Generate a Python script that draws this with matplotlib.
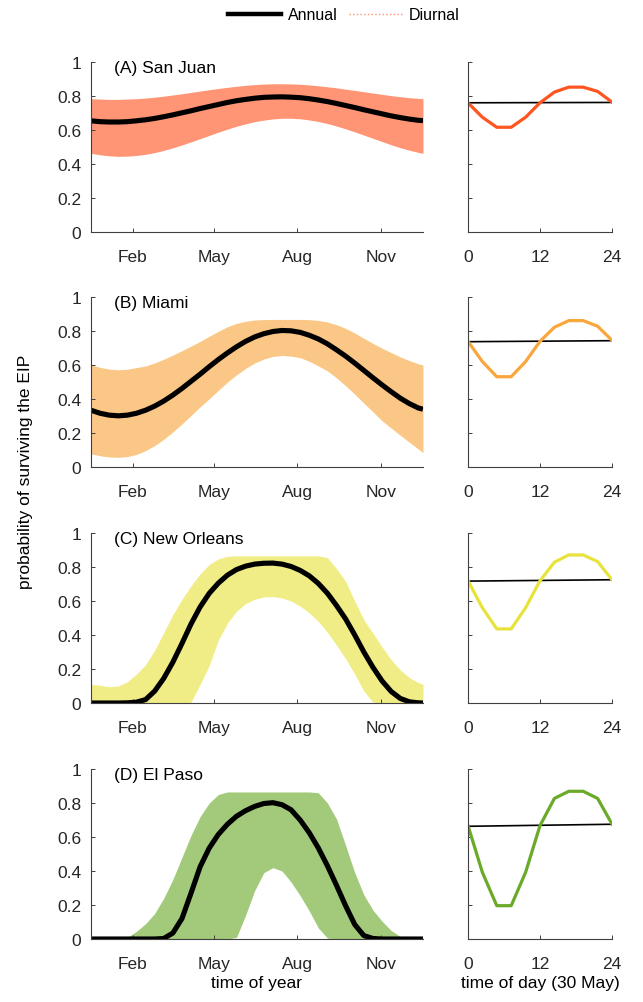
import matplotlib.pyplot as plt
from matplotlib.lines import Line2D

plt.rcParams['font.family'] = ['Liberation Sans', 'DejaVu Sans']

# giorno dell'anno (ogni 10 giorni)
days = [0, 10, 20, 30, 40, 50, 60, 70, 80, 90, 100, 110, 120, 130, 140, 150, 160, 170, 180,
        190, 200, 210, 220, 230, 240, 250, 260, 270, 280, 290, 300, 310, 320, 330, 340, 350,
        360, 365]

month_ticks = [46, 135, 227, 319]
month_labels = ['Feb', 'May', 'Aug', 'Nov']

# curve annuali (media)
sj_mean = [0.654, 0.649, 0.647, 0.647, 0.649, 0.654, 0.660, 0.668, 0.678, 0.689, 0.701, 0.713,
           0.726, 0.738, 0.750, 0.762, 0.772, 0.780, 0.787, 0.792, 0.794, 0.795, 0.793, 0.790,
           0.784, 0.776, 0.767, 0.756, 0.744, 0.732, 0.719, 0.707, 0.695, 0.683, 0.673, 0.664,
           0.657, 0.655]
mi_mean = [0.334, 0.316, 0.305, 0.301, 0.305, 0.316, 0.334, 0.358, 0.388, 0.423, 0.462, 0.504,
           0.546, 0.590, 0.632, 0.671, 0.707, 0.739, 0.765, 0.784, 0.797, 0.803, 0.801, 0.792,
           0.775, 0.753, 0.724, 0.689, 0.652, 0.611, 0.568, 0.525, 0.483, 0.443, 0.405, 0.373,
           0.347, 0.340]
no_mean = [0.0, 0.0, 0.0, 0.0, 0.001, 0.005, 0.02, 0.07, 0.145, 0.24, 0.35, 0.465,
           0.565, 0.645, 0.705, 0.752, 0.785, 0.805, 0.817, 0.822, 0.823, 0.817, 0.803, 0.780,
           0.748, 0.703, 0.645, 0.573, 0.494, 0.40, 0.30, 0.21, 0.13, 0.068, 0.027, 0.007,
           0.001, 0.0]
ep_mean = [0.0, 0.0, 0.0, 0.0, 0.0, 0.0, 0.0, 0.0, 0.003, 0.035, 0.12, 0.27,
           0.425, 0.535, 0.615, 0.675, 0.722, 0.755, 0.78, 0.797, 0.802, 0.79, 0.76, 0.70,
           0.625, 0.535, 0.43, 0.315, 0.195, 0.085, 0.02, 0.003, 0.0, 0.0, 0.0, 0.0,
           0.0, 0.0]

# inviluppo superiore / inferiore della variazione giornaliera
sj_up = [0.784, 0.782, 0.780, 0.780, 0.782, 0.784, 0.788, 0.793, 0.799, 0.806, 0.813, 0.821,
         0.829, 0.837, 0.844, 0.851, 0.857, 0.863, 0.867, 0.870, 0.872, 0.872, 0.871, 0.869,
         0.865, 0.860, 0.854, 0.848, 0.840, 0.833, 0.825, 0.817, 0.810, 0.802, 0.796, 0.790,
         0.786, 0.784]
sj_lo = [0.463, 0.454, 0.448, 0.445, 0.446, 0.450, 0.457, 0.467, 0.480, 0.495, 0.512, 0.530,
         0.549, 0.568, 0.587, 0.605, 0.622, 0.636, 0.649, 0.658, 0.665, 0.669, 0.669, 0.666,
         0.659, 0.650, 0.638, 0.623, 0.607, 0.589, 0.570, 0.551, 0.532, 0.513, 0.496, 0.481,
         0.468, 0.463]
mi_up = [0.600, 0.586, 0.576, 0.572, 0.575, 0.585, 0.594, 0.612, 0.634, 0.658, 0.684, 0.711,
         0.739, 0.769, 0.798, 0.825, 0.845, 0.857, 0.865, 0.867, 0.868, 0.868, 0.868, 0.868,
         0.867, 0.862, 0.853, 0.837, 0.815, 0.788, 0.757, 0.727, 0.699, 0.673, 0.648, 0.626,
         0.607, 0.600]
mi_lo = [0.078, 0.066, 0.059, 0.057, 0.061, 0.074, 0.096, 0.126, 0.163, 0.206, 0.253, 0.303,
         0.354, 0.401, 0.451, 0.499, 0.542, 0.580, 0.612, 0.635, 0.650, 0.656, 0.652, 0.643,
         0.622, 0.594, 0.565, 0.524, 0.478, 0.428, 0.376, 0.324, 0.272, 0.229, 0.187, 0.146,
         0.105, 0.085]
no_up = [0.110, 0.104, 0.096, 0.100, 0.125, 0.170, 0.225, 0.310, 0.415, 0.520, 0.610, 0.690,
         0.760, 0.815, 0.848, 0.863, 0.866, 0.866, 0.866, 0.866, 0.866, 0.866, 0.866, 0.866,
         0.866, 0.866, 0.855, 0.790, 0.715, 0.600, 0.490, 0.410, 0.330, 0.255, 0.195, 0.150,
         0.120, 0.110]
no_lo = [0.0, 0.0, 0.0, 0.0, 0.0, 0.0, 0.0, 0.0, 0.0, 0.0, 0.0, 0.005,
         0.11, 0.22, 0.37, 0.47, 0.54, 0.585, 0.61, 0.624, 0.626, 0.618, 0.60, 0.57,
         0.53, 0.48, 0.415, 0.34, 0.26, 0.17, 0.07, 0.005, 0.0, 0.0, 0.0, 0.0,
         0.0, 0.0]
ep_up = [0.0, 0.0, 0.0, 0.0, 0.01, 0.045, 0.09, 0.15, 0.24, 0.35, 0.48, 0.61,
         0.72, 0.80, 0.85, 0.865, 0.865, 0.865, 0.865, 0.865, 0.865, 0.865, 0.865, 0.865,
         0.865, 0.86, 0.80, 0.705, 0.55, 0.39, 0.26, 0.17, 0.105, 0.05, 0.015, 0.0,
         0.0, 0.0]
ep_lo = [0.0, 0.0, 0.0, 0.0, 0.0, 0.0, 0.0, 0.0, 0.0, 0.0, 0.0, 0.0,
         0.0, 0.0, 0.0, 0.0, 0.01, 0.14, 0.285, 0.39, 0.42, 0.40, 0.335, 0.255,
         0.165, 0.065, 0.005, 0.0, 0.0, 0.0, 0.0, 0.0, 0.0, 0.0, 0.0, 0.0,
         0.0, 0.0]

# profilo giornaliero del 30 maggio
hours = [0, 2.4, 4.8, 7.2, 9.6, 12, 14.4, 16.8, 19.2, 21.6, 24]
sj_day = [0.760, 0.675, 0.616, 0.616, 0.675, 0.760, 0.823, 0.852, 0.852, 0.827, 0.764]
mi_day = [0.739, 0.620, 0.531, 0.531, 0.620, 0.739, 0.822, 0.861, 0.861, 0.828, 0.745]
no_day = [0.719, 0.560, 0.436, 0.436, 0.560, 0.719, 0.828, 0.871, 0.871, 0.832, 0.725]
ep_day = [0.667, 0.392, 0.196, 0.196, 0.392, 0.667, 0.827, 0.869, 0.869, 0.827, 0.676]

# valore annuale nello stesso giorno
day_hours = [0, 24]
sj_flat = [0.760, 0.762]
mi_flat = [0.737, 0.743]
no_flat = [0.717, 0.725]
ep_flat = [0.663, 0.675]

titles = ['(A) San Juan', '(B) Miami', '(C) New Orleans', '(D) El Paso']
colors = ['#ff5520', '#f9a63c', '#e8e33c', '#6aaa28']
means = [sj_mean, mi_mean, no_mean, ep_mean]
ups = [sj_up, mi_up, no_up, ep_up]
los = [sj_lo, mi_lo, no_lo, ep_lo]
dayv = [sj_day, mi_day, no_day, ep_day]
flats = [sj_flat, mi_flat, no_flat, ep_flat]

fig = plt.figure(figsize=(6.43, 10.03), dpi=100)
axcol = '#404040'
bottoms = [0.7677, 0.5334, 0.2981, 0.0628]
h = 0.1695

for i in range(4):
    ax = fig.add_axes([0.1415, bottoms[i], 0.5163, h])
    ax2 = fig.add_axes([0.7278, bottoms[i], 0.224, h])

    # grafico annuale
    ax.fill_between(days, los[i], ups[i], color=colors[i], alpha=0.62, lw=0)
    ax.plot(days, means[i], color='black', lw=3.7, solid_capstyle='butt',
            solid_joinstyle='round')
    ax.set_xlim(0, 365)
    ax.set_ylim(0, 1)
    ax.set_xticks(month_ticks)
    ax.set_xticklabels(month_labels)
    ax.set_yticks([0, 0.2, 0.4, 0.6, 0.8, 1])
    ax.set_yticklabels(['0', '0.2', '0.4', '0.6', '0.8', '1'])
    ax.text(0.07, 0.97, titles[i], transform=ax.transAxes, fontsize=12.5,
            va='center', ha='left', color='black')

    # grafico giornaliero
    ax2.plot(day_hours, flats[i], color='black', lw=1.2)
    ax2.plot(hours, dayv[i], color=colors[i], lw=2.3)
    ax2.set_xlim(0, 24)
    ax2.set_ylim(0, 1)
    ax2.set_xticks([0, 12, 24])
    ax2.set_yticks([0, 0.2, 0.4, 0.6, 0.8, 1])
    ax2.set_yticklabels([])

    for a in (ax, ax2):
        a.spines['top'].set_visible(False)
        a.spines['right'].set_visible(False)
        a.spines['left'].set_color(axcol)
        a.spines['bottom'].set_color(axcol)
        a.tick_params(direction='in', length=3, width=0.7, colors=axcol,
                      labelsize=12.5, labelcolor='#262626', pad=7)
        a.tick_params(axis='x', pad=12)
        for s in a.spines.values():
            s.set_linewidth(0.8)
        a.set_facecolor('none')

    if i == 3:
        ax.set_xlabel('time of year', fontsize=12.5, labelpad=3)
        ax2.set_xlabel('time of day (30 May)', fontsize=12.5, labelpad=3)

fig.text(0.039, 0.53, 'probability of surviving the EIP', rotation=90,
         fontsize=12.5, ha='center', va='center')

handles = [Line2D([], [], color='black', lw=3.2),
           Line2D([], [], color='#ff9070', lw=1.0, ls=':')]
fig.legend(handles, ['Annual', 'Diurnal'], loc='upper center', ncol=2,
           bbox_to_anchor=(0.535, 1.006), frameon=False, fontsize=11.5,
           handlelength=3.3, handletextpad=0.45, columnspacing=0.7)

fig.savefig('out.png', dpi=100)
